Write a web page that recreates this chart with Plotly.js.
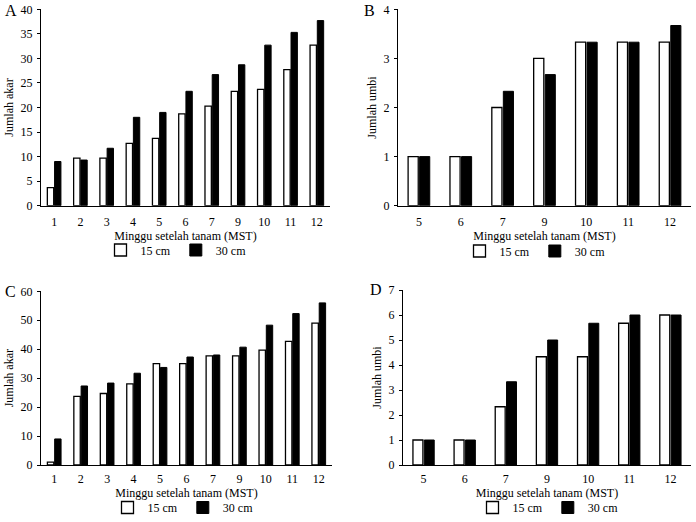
<!DOCTYPE html>
<html>
<head>
<meta charset="utf-8">
<script src="https://cdn.plot.ly/plotly-3.0.1.min.js"></script>
<style>html,body{margin:0;padding:0;background:#fff;}#chart{width:696px;height:522px;}</style>
</head>
<body>
<div id="chart"></div>
<script>
// Data
const weeksAC = ['1','2','3','4','5','6','7','9','10','11','12'];
const weeksBD = ['5','6','7','9','10','11','12'];
const seriesNames = ['15 cm', '30 cm'];

const akarA15 = [3.7, 9.7, 9.7, 12.7, 13.7, 18.7, 20.3, 23.3, 23.7, 27.7, 32.7];
const akarA30 = [9.0, 9.3, 11.7, 18.0, 19.0, 23.3, 26.7, 28.7, 32.7, 35.3, 37.7];
const umbiB15 = [1, 1, 2, 3, 3.33, 3.33, 3.33];
const umbiB30 = [1, 1, 2.33, 2.67, 3.33, 3.33, 3.67];
const akarC15 = [1, 23.7, 24.7, 28, 35, 35, 37.7, 37.7, 39.7, 42.7, 49];
const akarC30 = [9, 27.3, 28.3, 31.7, 33.7, 37.3, 38, 40.7, 48.3, 52.3, 56];
const umbiD15 = [1, 1, 2.33, 4.33, 4.33, 5.67, 6];
const umbiD30 = [1, 1, 3.33, 5, 5.67, 6, 6];

const yTitles = ['Jumlah akar', 'Jumlah umbi', 'Jumlah akar', 'Jumlah umbi'];
const xTitle = 'Minggu setelah tanam (MST)';
const panelLabels = ['A', 'B', 'C', 'D'];

const FONT = 'Liberation Serif';
const FS = 12;

function pair(x, y15, y30, idx) {
  const sfx = idx === 1 ? '' : String(idx);
  const leg = idx === 1 ? 'legend' : 'legend' + idx;
  return [
    {type: 'bar', x: x, y: y15, name: seriesNames[0], xaxis: 'x' + sfx, yaxis: 'y' + sfx, legend: leg,
     marker: {color: '#ffffff', line: {color: '#000000', width: 1.3}}},
    {type: 'bar', x: x, y: y30, name: seriesNames[1], xaxis: 'x' + sfx, yaxis: 'y' + sfx, legend: leg,
     marker: {color: '#000000', line: {color: '#000000', width: 1}}}
  ];
}

const data = [].concat(
  pair(weeksAC, akarA15, akarA30, 1),
  pair(weeksBD, umbiB15, umbiB30, 2),
  pair(weeksAC, akarC15, akarC30, 3),
  pair(weeksBD, umbiD15, umbiD30, 4)
);

const W = 696, H = 522;
function px(a) { return a / W; }
function py(b) { return 1 - b / H; }

function xax(domain, anchor, tso, so) {
  return {domain: domain, anchor: anchor, type: 'category', showline: true, linecolor: '#000', linewidth: 1,
    ticks: '', showgrid: false, zeroline: false, ticklabelstandoff: tso,
    tickfont: {family: FONT, size: FS, color: '#000'},
    title: {text: xTitle, font: {family: FONT, size: FS, color: '#000'}, standoff: so}, fixedrange: true};
}
function yax(domain, anchor, range, dtick, title) {
  return {domain: domain, anchor: anchor, range: range, dtick: dtick, showline: true, linecolor: '#000', linewidth: 1,
    ticks: 'outside', ticklen: 3, tickcolor: '#000', showgrid: false, zeroline: false, ticklabelstandoff: 2,
    tickfont: {family: FONT, size: FS, color: '#000'},
    title: {text: title, font: {family: FONT, size: FS, color: '#000'}, standoff: 4}, fixedrange: true};
}
function leg(xc, yc, anchor) {
  return {orientation: 'h', x: px(xc), y: yc, xanchor: 'center', yanchor: anchor,
    font: {family: FONT, size: FS, color: '#000'}, bgcolor: 'rgba(0,0,0,0)', itemwidth: 30, tracegroupgap: 0};
}
function lab(t, xc, yc) {
  return {text: t, x: px(xc), y: py(yc), xref: 'paper', yref: 'paper', xanchor: 'center', yanchor: 'middle',
    showarrow: false, font: {family: FONT, size: 16, color: '#000'}};
}

const layout = {
  width: W, height: H,
  margin: {l: 0, r: 0, t: 0, b: 0},
  paper_bgcolor: '#fff', plot_bgcolor: '#fff',
  font: {family: FONT, color: '#000'},
  barmode: 'group', bargap: 0.45, bargroupgap: 0.12,
  showlegend: true,
  xaxis: xax([px(41), px(330)], 'y', 5, 1),
  yaxis: yax([py(205.7), py(9.3)], 'x', [0, 40], 5, yTitles[0]),
  xaxis2: xax([px(398), px(691)], 'y2', 5, 1),
  yaxis2: yax([py(205.7), py(9.3)], 'x2', [0, 4], 1, yTitles[1]),
  xaxis3: xax([px(41), px(332)], 'y3', 3, 0),
  yaxis3: yax([py(465), py(291.3)], 'x3', [0, 60], 10, yTitles[2]),
  xaxis4: xax([px(403), px(691)], 'y4', 3, 0),
  yaxis4: yax([py(465), py(290)], 'x4', [0, 7], 1, yTitles[3]),
  legend: leg(176, py(250), 'middle'),
  legend2: leg(535, py(251), 'middle'),
  legend3: leg(183, 0, 'bottom'),
  legend4: leg(548, 0, 'bottom'),
  annotations: [
    lab(panelLabels[0], 11, 11),
    lab(panelLabels[1], 369, 11),
    lab(panelLabels[2], 10, 291),
    lab(panelLabels[3], 376, 289)
  ]
};

Plotly.newPlot('chart', data, layout, {staticPlot: true, displayModeBar: false});
</script>
</body>
</html>
